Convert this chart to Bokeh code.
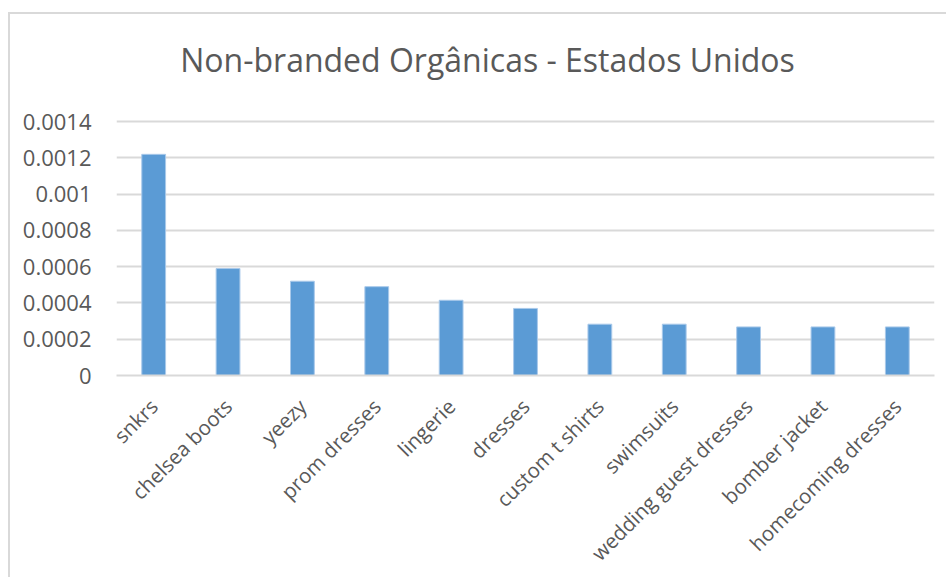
import math
from bokeh.plotting import figure
from bokeh.models import Range1d, FactorRange, ColumnDataSource, FixedTicker, Label
from bokeh.embed import file_html
from bokeh.resources import INLINE

categories = ["snkrs", "chelsea boots", "yeezy", "prom dresses", "lingerie", "dresses",
              "custom t shirts", "swimsuits", "wedding guest dresses", "bomber jacket",
              "homecoming dresses"]
values = [0.00122, 0.00059, 0.00052, 0.00049, 0.000415, 0.00037,
          0.000283, 0.000283, 0.000268, 0.000268, 0.000268]
y_ticks = [0, 0.0002, 0.0004, 0.0006, 0.0008, 0.001, 0.0012, 0.0014]
y_tick_labels = ["0", "0.0002", "0.0004", "0.0006", "0.0008", "0.001", "0.0012", "0.0014"]
title_text = "Non-branded Orgânicas - Estados Unidos"

FONT = "Open Sans"
TXT = "#595959"
GRID = "#d9d9d9"

# the frame is extended upwards so the title can sit inside it (no outline drawn)
FRAME_TOP_PAD = 92          # px of empty frame above the 0.0014 gridline
GRID_H = 256                # px between 0 and 0.0014
y_top = y_ticks[-1] * (GRID_H + FRAME_TOP_PAD) / GRID_H

src = ColumnDataSource(dict(cat=categories, val=values))

p = figure(x_range=FactorRange(*categories, range_padding=0),
           y_range=Range1d(0, y_top),
           width=938, height=565, output_backend="svg", toolbar_location=None,
           min_border_left=106, min_border_right=14, min_border_top=16,
           min_border_bottom=201,
           styles={"border-left": "2px solid #d9d9d9", "border-top": "2px solid #d9d9d9"},
           margin=(12, 0, 0, 8))

title = Label(x=371, y=316, x_units="screen", y_units="screen", text=title_text,
              text_align="center", text_baseline="alphabetic", text_font=FONT,
              text_font_size="32px", text_color=TXT)
p.add_layout(title)

p.vbar(x="cat", top="val", width=0.32, source=src, fill_color="#5b9bd5",
       line_color="#a9c9ea", line_width=1)

p.outline_line_color = None
p.xgrid.grid_line_color = None
p.ygrid.grid_line_color = GRID
p.ygrid.grid_line_width = 2
p.ygrid.ticker = FixedTicker(ticks=y_ticks)

p.yaxis.ticker = FixedTicker(ticks=y_ticks)
p.yaxis.major_label_overrides = {t: l for t, l in zip(y_ticks, y_tick_labels)}
p.yaxis.axis_line_color = None
p.yaxis.major_tick_line_color = None
p.yaxis.minor_tick_line_color = None
p.yaxis.major_tick_out = 0
p.yaxis.major_label_standoff = 25
p.yaxis.major_label_text_font = FONT
p.yaxis.major_label_text_font_size = "22px"
p.yaxis.major_label_text_color = TXT

p.xaxis.axis_line_color = GRID
p.xaxis.axis_line_width = 2
p.xaxis.major_tick_line_color = None
p.xaxis.major_tick_out = 0
p.xaxis.major_label_orientation = math.pi / 4
p.xaxis.major_label_standoff = 27
p.xaxis.major_label_text_font = FONT
p.xaxis.major_label_text_font_size = "20.5px"
p.xaxis.major_label_text_color = TXT

open("out.html", "w").write(file_html(p, INLINE))
